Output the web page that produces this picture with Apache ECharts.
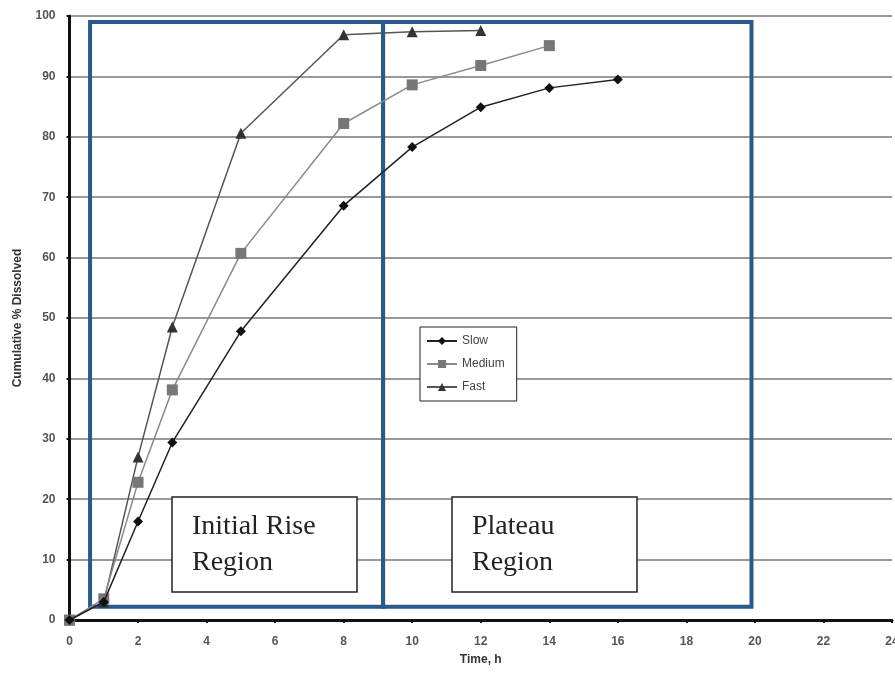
<!DOCTYPE html>
<html><head><meta charset="utf-8">
<script src="https://cdn.jsdelivr.net/npm/echarts@6/dist/echarts.min.js"></script>
<style>html,body{margin:0;padding:0;background:#fff}#c{width:895px;height:676px}</style>
</head><body><div id="c"></div>
<script>
var times = [0, 1, 2, 3, 5, 8, 10, 12, 14, 16];
var slow = [0, 3, 16.3, 29.4, 47.8, 68.6, 78.3, 84.9, 88.1, 89.5];
var medium = [0, 3.5, 22.8, 38.1, 60.7, 82.2, 88.6, 91.8, 95.1];
var fast = [0, 3, 27, 48.5, 80.6, 96.9, 97.4, 97.6];
var xTicks = [0, 2, 4, 6, 8, 10, 12, 14, 16, 18, 20, 22, 24];
var yTicks = [0, 10, 20, 30, 40, 50, 60, 70, 80, 90, 100];
var regionLeft = [0.6, 9.15];
var regionMid = [9.15];
var regionRight = [19.9];
var regionY = [99, 2.2];

function pairs(vals){ return vals.map(function(v,i){ return [times[i], v]; }); }

var chart = echarts.init(document.getElementById('c'));
var font = 'Liberation Sans, Arial, sans-serif';
chart.setOption({
  animation: false,
  backgroundColor: '#fff',
  grid: { left: 69.5, right: 3, top: 16, bottom: 56, containLabel: false, outerBoundsMode: 'none' },
  xAxis: {
    type: 'value', min: xTicks[0], max: xTicks[xTicks.length-1], interval: 2,
    name: 'Time, h', nameLocation: 'middle', nameGap: 34,
    nameTextStyle: { fontFamily: font, fontWeight: 'bold', fontSize: 12, color: '#333' },
    axisLine: { lineStyle: { color: '#111', width: 3 } },
    axisTick: { show: true, length: 3, lineStyle: { color: '#111', width: 2 } },
    axisLabel: { fontFamily: font, fontSize: 12, fontWeight: 'bold', color: '#555', margin: 16 },
    splitLine: { show: false }
  },
  yAxis: {
    type: 'value', min: yTicks[0], max: yTicks[yTicks.length-1], interval: 10,
    name: 'Cumulative % Dissolved', nameLocation: 'middle', nameGap: 46, nameRotate: 90,
    nameTextStyle: { fontFamily: font, fontWeight: 'bold', fontSize: 12, color: '#333' },
    axisLine: { lineStyle: { color: '#111', width: 3 } },
    axisTick: { show: true, length: 3, lineStyle: { color: '#111', width: 2 } },
    axisLabel: { fontFamily: font, fontSize: 12, fontWeight: 'bold', color: '#555', margin: 14 },
    splitLine: { show: true, lineStyle: { color: '#777', width: 1.5 } }
  },
  legend: {
    orient: 'vertical', left: 420, top: 327,
    data: ['Slow', 'Medium', 'Fast'],
    backgroundColor: '#fff', borderColor: '#222', borderWidth: 1,
    padding: [8, 12, 8, 6], itemGap: 11, itemWidth: 30, itemHeight: 10,
    textStyle: { fontFamily: font, fontSize: 12, color: '#444' }
  },
  series: [
    {
      name: 'Slow', type: 'line', data: pairs(slow),
      symbol: 'diamond', symbolSize: 10,
      lineStyle: { color: '#222', width: 1.5 }, itemStyle: { color: '#111' },
      z: 5,
      markArea: {
        silent: true,
        itemStyle: { color: 'rgba(0,0,0,0)', borderColor: '#2a5a8c', borderWidth: 4 },
        data: [
          [{ coord: [regionLeft[0], regionY[0]] }, { coord: [regionMid[0], regionY[1]] }],
          [{ coord: [regionMid[0], regionY[0]] }, { coord: [regionRight[0], regionY[1]] }]
        ]
      }
    },
    {
      name: 'Medium', type: 'line', data: pairs(medium),
      symbol: 'rect', symbolSize: 11,
      lineStyle: { color: '#8a8a8a', width: 1.5 }, itemStyle: { color: '#777' }, z: 4
    },
    {
      name: 'Fast', type: 'line', data: pairs(fast),
      symbol: 'triangle', symbolSize: 11,
      lineStyle: { color: '#555', width: 1.5 }, itemStyle: { color: '#333' }, z: 3
    }
  ],
  graphic: [
    { type: 'rect', z: 100, shape: { x: 172, y: 497, width: 185, height: 95 },
      style: { fill: '#fff', stroke: '#222', lineWidth: 1.5 } },
    { type: 'text', z: 101, left: 192, top: 509,
      style: { text: 'Initial Rise\nRegion', font: '28px "Liberation Serif", "Times New Roman", serif', fill: '#222', lineHeight: 36 } },
    { type: 'rect', z: 100, shape: { x: 452, y: 497, width: 185, height: 95 },
      style: { fill: '#fff', stroke: '#222', lineWidth: 1.5 } },
    { type: 'text', z: 101, left: 472, top: 509,
      style: { text: 'Plateau\nRegion', font: '28px "Liberation Serif", "Times New Roman", serif', fill: '#222', lineHeight: 36 } }
  ]
});
</script></body></html>
